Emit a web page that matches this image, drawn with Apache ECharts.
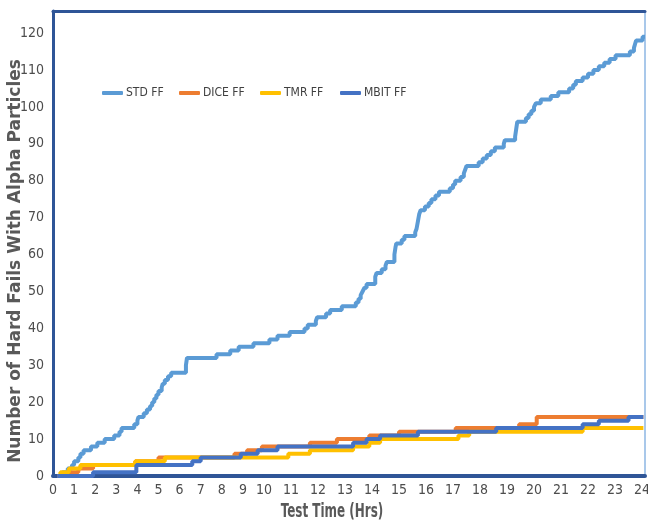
<!DOCTYPE html>
<html>
<head>
<meta charset="utf-8">
<title>Hard Fails With Alpha Particles</title>
<script src="https://cdn.jsdelivr.net/npm/echarts@6/dist/echarts.min.js"></script>
<style>
  html, body { margin: 0; padding: 0; background: #ffffff; }
  #chart { width: 648px; height: 525px; }
</style>
</head>
<body>
<div id="chart"></div>
<script>
// Cumulative hard-fail counts: each entry is [test time in hours, count reached at that time]
const seriesNames = ['STD FF', 'DICE FF', 'TMR FF', 'MBIT FF'];

const stdFF = [
  [0.3, 0], [0.45, 1], [0.7, 2], [0.9, 3], [1.0, 4], [1.2, 5], [1.3, 6], [1.45, 7], [1.8, 8],
  [2.1, 9], [2.45, 10], [2.9, 11], [3.15, 12], [3.25, 13], [3.85, 14], [4.0, 15], [4.05, 16],
  [4.3, 17], [4.45, 18], [4.6, 19], [4.7, 20], [4.8, 21], [4.9, 22], [5.0, 23], [5.15, 24],
  [5.2, 25], [5.3, 26], [5.45, 27], [5.6, 28], [6.3, 30], [6.35, 32], [7.75, 33], [8.4, 34],
  [8.8, 35], [9.5, 36], [10.2, 37], [10.5, 38], [10.95, 39], [11.5, 40], [11.62, 41],
  [11.92, 42], [11.97, 43], [12.3, 44], [12.45, 45], [12.88, 46], [13.4, 47], [13.5, 48],
  [13.58, 49], [13.65, 50], [13.72, 51], [13.8, 52], [14.12, 54], [14.17, 55], [14.36, 56],
  [14.5, 57], [14.55, 58], [14.83, 60], [14.87, 62], [14.9, 63], [15.1, 64], [15.2, 65],
  [15.6, 66], [15.65, 67], [15.7, 69], [15.75, 71], [15.8, 72], [15.96, 73], [16.1, 74],
  [16.2, 75], [16.35, 76], [16.48, 77], [16.88, 78], [17.0, 79], [17.08, 80], [17.28, 81],
  [17.4, 82], [17.45, 83], [17.5, 84], [17.95, 85], [18.1, 86], [18.25, 87], [18.4, 88],
  [18.55, 89], [18.88, 90], [18.92, 91], [19.3, 92], [19.34, 94], [19.38, 96], [19.7, 97],
  [19.8, 98], [19.9, 99], [20.0, 100], [20.07, 101], [20.25, 102], [20.62, 103], [20.9, 104],
  [21.3, 105], [21.45, 106], [21.55, 107], [21.8, 108], [22.0, 109], [22.2, 110], [22.4, 111],
  [22.6, 112], [22.8, 113], [23.02, 114], [23.55, 115], [23.7, 116], [23.74, 117], [23.78, 118],
  [24.02, 119], [24.11, 119]
];

const diceFF = [
  [0.2, 0], [0.8, 1], [1.2, 2], [1.9, 3], [3.9, 4], [5.0, 5], [8.6, 6], [9.2, 7], [9.9, 8],
  [11.7, 9], [12.7, 10], [13.9, 11], [15.0, 12], [17.1, 13], [19.45, 14], [20.1, 16], [24.05, 16]
];

const tmrFF = [
  [0.25, 0], [0.35, 1], [0.75, 2], [1.3, 3], [3.9, 4], [5.3, 5], [10.9, 6], [11.7, 7],
  [13.3, 8], [13.9, 9], [14.3, 10], [17.2, 11], [17.6, 12], [21.8, 13], [24.05, 13]
];

const mbitFF = [
  [0.2, 0], [1.9, 1], [3.95, 3], [6.6, 4], [7.0, 5], [8.9, 6], [9.7, 7], [10.5, 8], [13.3, 9],
  [13.8, 10], [14.3, 11], [15.7, 12], [18.6, 13], [21.8, 14], [22.4, 15], [23.5, 16], [24.05, 16]
];

const seriesColors = ['#5B9BD5', '#ED7D31', '#FFC000', '#4472C4'];

// Left offsets of the four legend entries
const legendLefts = [102, 179, 260, 340];

// The time axis is drawn in two spans with different scales (0-10 h and 10-24 h)
const splitHour = 10;
const hourMax = 24.11;
const yMax = 126;

const narrowFont = "'DejaVu Sans Condensed', 'Liberation Sans Narrow', 'Roboto Condensed', sans-serif";
const axisDark = '#2F5597';
const labelColor = '#4d4d4d';

function splitAt(points, cut) {
  const left = [], right = [];
  let last = null;
  for (const p of points) {
    if (p[0] <= cut) { left.push(p); last = p[1]; }
    else right.push(p);
  }
  if (last !== null) {
    left.push([cut, last]);
    right.unshift([cut, last]);
  }
  return [left, right];
}

const allData = [stdFF, diceFF, tmrFF, mbitFF];
const series = [];
allData.forEach((pts, i) => {
  const [l, r] = splitAt(pts, splitHour);
  const base = {
    type: 'line',
    name: seriesNames[i],
    step: 'end',
    showSymbol: false,
    symbol: 'none',
    lineStyle: { width: 4, color: seriesColors[i], cap: 'butt' },
    itemStyle: { color: seriesColors[i] },
    emphasis: { disabled: true }
  };
  series.push(Object.assign({}, base, { xAxisIndex: 0, yAxisIndex: 0, data: l }));
  series.push(Object.assign({}, base, { xAxisIndex: 1, yAxisIndex: 1, data: r }));
});

const legends = seriesNames.map((name, i) => ({
  data: [name],
  left: legendLefts[i],
  top: 87,
  icon: 'roundRect',
  itemWidth: 21,
  itemHeight: 4,
  padding: 0,
  selectedMode: false,
  textStyle: { color: '#404040', fontSize: 12, fontFamily: narrowFont, padding: [0, 0, 0, -2] }
}));

const tickLabel = { color: labelColor, fontSize: 14, fontFamily: narrowFont };

function frameAxis(gridIndex, min, max, position, width) {
  return {
    gridIndex, type: 'value', min, max, position,
    axisLine: { show: true, onZero: false, lineStyle: { color: axisDark, width } },
    axisTick: { show: false }, splitLine: { show: false }, axisLabel: { show: false }
  };
}

const chart = echarts.init(document.getElementById('chart'), null, { renderer: 'canvas' });
chart.setOption({
  animation: false,
  backgroundColor: '#ffffff',
  grid: [
    { left: 53, top: 11, width: 211, height: 465, containLabel: false, outerBoundsMode: 'none' },
    { left: 264, top: 11, width: 381, height: 465, containLabel: false, outerBoundsMode: 'none' }
  ],
  legend: legends,
  xAxis: [
    {
      gridIndex: 0, type: 'value', min: 0, max: splitHour, interval: 1, position: 'bottom',
      axisLine: { show: true, onZero: false, lineStyle: { color: axisDark, width: 4 } },
      axisTick: { show: false }, splitLine: { show: false },
      axisLabel: Object.assign({ showMaxLabel: false, margin: 7 }, tickLabel)
    },
    {
      gridIndex: 1, type: 'value', min: splitHour, max: hourMax, interval: 1, position: 'bottom',
      axisLine: { show: true, onZero: false, lineStyle: { color: axisDark, width: 4 } },
      axisTick: { show: false }, splitLine: { show: false },
      axisLabel: Object.assign({ showMaxLabel: false, margin: 7 }, tickLabel)
    },
    frameAxis(0, 0, splitHour, 'top', 3),
    frameAxis(1, splitHour, hourMax, 'top', 3)
  ],
  yAxis: [
    {
      gridIndex: 0, type: 'value', min: 0, max: yMax, interval: 10, position: 'left',
      axisLine: { show: true, onZero: false, lineStyle: { color: axisDark, width: 3 } },
      axisTick: { show: false }, splitLine: { show: false },
      axisLabel: Object.assign({ showMaxLabel: false, margin: 9 }, tickLabel)
    },
    {
      gridIndex: 1, type: 'value', min: 0, max: yMax, interval: 10, position: 'right',
      axisLine: { show: true, onZero: false, lineStyle: { color: '#A9C8EA', width: 2 } },
      axisTick: { show: false }, splitLine: { show: false }, axisLabel: { show: false }
    }
  ],
  graphic: [
    {
      type: 'text', x: 16, y: 261, rotation: Math.PI / 2, silent: true,
      style: {
        text: 'Number of Hard Fails With Alpha Particles',
        fontSize: 17, fontWeight: 'bold', fontFamily: "'DejaVu Sans', Verdana, sans-serif",
        fill: '#595959', align: 'center', verticalAlign: 'middle',
        textAlign: 'center', textVerticalAlign: 'middle'
      }
    },
    {
      type: 'text', x: 332, y: 512, scaleX: 0.7, silent: true,
      style: {
        text: 'Test Time (Hrs)',
        fontSize: 19, fontWeight: 'bold', fontFamily: narrowFont,
        fill: '#595959', align: 'center', verticalAlign: 'middle',
        textAlign: 'center', textVerticalAlign: 'middle'
      }
    }
  ],
  series: series
});
</script>
</body>
</html>
